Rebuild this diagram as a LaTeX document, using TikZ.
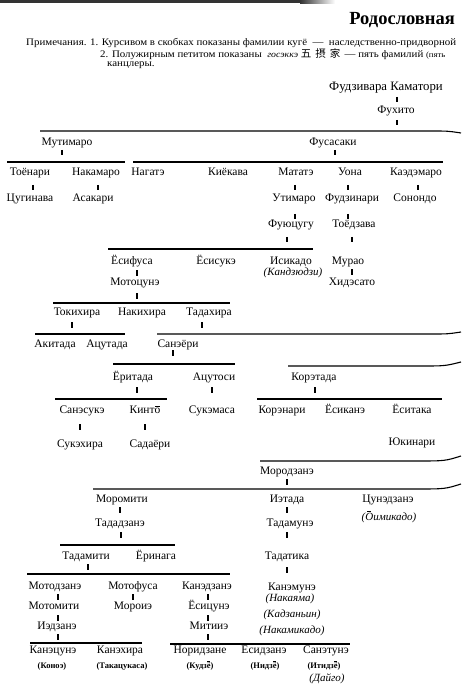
\documentclass[tikz,border=0pt]{standalone}
\usepackage{fontspec}
\setmainfont{Liberation Serif}
\newfontfamily\cjk{Noto Sans CJK JP}
\newfontfamily\notefont[FakeStretch=1.09]{Liberation Serif}
\newcommand\macr[2][0.58em]{\ooalign{#2\cr\hidewidth\smash{\raisebox{#1}{\rule{0.36em}{0.065em}}}\hidewidth\cr}}
\begin{document}
\begin{tikzpicture}[x=1pt,y=-1pt,
  nm/.style={anchor=mid,inner sep=0pt,font=\fontsize{11.5}{13}\selectfont},
  it/.style={anchor=mid,inner sep=0pt,font=\fontsize{11}{13}\selectfont\itshape},
  bs/.style={anchor=mid,inner sep=0pt,font=\fontsize{8.5}{10}\selectfont\bfseries},
  note/.style={anchor=mid west,inner sep=0pt,font=\notefont\fontsize{10}{11}\selectfont},
  bar/.style={line width=1.1pt},
  tick/.style={line width=1.3pt}]
\useasboundingbox (0,0) rectangle (461,700);
% scan band at top
\fill[black!80] (0,0) rectangle (300,3.5);
\shade[left color=black!80,right color=white] (300,0) rectangle (335,3.5);
% header
\node[anchor=mid east,inner sep=0pt,font=\fontsize{18.5}{20}\selectfont\bfseries] (title) at (455,22) {Родословная};
\node[note] (n1) at (26,43) {Примечания. 1. Курсивом в скобках показаны фамилии кугё~~—~~наследственно-придворной};
\node[note] (n2) at (100,55.5) {2. Полужирным петитом показаны \ {\itshape\fontsize{9}{9}\selectfont госэккэ} {\cjk\fontsize{10.5}{10.5}\selectfont 五\hspace{4pt}摂\hspace{4pt}家}\, — пять фамилий {\fontsize{8}{8}\selectfont (пять}};
\node[note] (n3) at (107,64) {канцлеры.};

% generation nodes
\node[nm,font=\fontsize{12.8}{14}\selectfont] (kam) at (386,88) {Фудзивара Каматори};
\node[nm] (fuh) at (396,111) {Фухито};
\node[nm] (mut) at (67,143) {Мутимаро};
\node[nm] (fus) at (333,143) {Фусасаки};
\node[nm] (toyo) at (30,173) {Тоёнари};
\node[nm] (nakam) at (96,173) {Накамаро};
\node[nm] (nagat) at (148,173) {Нагатэ};
\node[nm] (kiyo) at (228,173) {Киёкава};
\node[nm] (matat) at (296,173) {Мататэ};
\node[nm] (uona) at (350,173) {Уона};
\node[nm] (kaed) at (416,173) {Каэдэмаро};
\node[nm] (tsug) at (30,199) {Цугинава};
\node[nm] (asak) at (93,199) {Асакари};
\node[nm] (utim) at (294,199) {Утимаро};
\node[nm] (fudzn) at (352,199) {Фудзинари};
\node[nm] (sonon) at (415,199) {Сонондо};
\node[nm] (fuyu) at (291,225) {Фуюцугу};
\node[nm] (toyodz) at (354,225) {Тоёдзава};
\node[nm] (yosif) at (132,262) {Ёсифуса};
\node[nm] (yosis) at (216,262) {Ёсисукэ};
\node[nm] (isik) at (291,262) {Исикадо};
\node[it] (kandz) at (293,273) {(Кандзюдзи)};
\node[nm] (murao) at (348,262) {Мурао};
\node[nm] (motots) at (135,283) {Мотоцунэ};
\node[nm] (hides) at (352,283) {Хидэсато};
\node[nm] (tokih) at (77,313) {Токихира};
\node[nm] (nakih) at (142,313) {Накихира};
\node[nm] (tadah) at (209,313) {Тадахира};
\node[nm] (akit) at (55,345) {Акитада};
\node[nm] (atsut) at (107,345) {Ацутада};
\node[nm] (saneyo) at (178,345) {Санэёри};
\node[nm] (yorit) at (133,378) {Ёритада};
\node[nm] (atsuto) at (214,378) {Ацутоси};
\node[nm] (koret) at (314,378) {Корэтада};
\node[nm] (sanes) at (82,411) {Санэсукэ};
\node[nm] (kinto) at (145,411) {Кинт\macr{о}};
\node[nm] (sukem) at (212,411) {Сукэмаса};
\node[nm] (koren) at (282,411) {Корэнари};
\node[nm] (yosik) at (345,411) {Ёсиканэ};
\node[nm] (yosit) at (412,411) {Ёситака};
\node[nm] (sukeh) at (80,445) {Сукэхира};
\node[nm] (sadayo) at (150,445) {Садаёри};
\node[nm] (yukin) at (412,443) {Юкинари};
\node[nm] (morodz) at (287,472) {Мородзанэ};
\node[nm] (moromi) at (122,500) {Моромити};
\node[nm] (ietada) at (287,500) {Иэтада};
\node[nm] (tsunedz) at (388,500) {Цунэдзанэ};
\node[it] (oimik) at (389,518) {(\macr[0.76em]{О}имикадо)};
\node[nm] (tadadz) at (120,524) {Тададзанэ};
\node[nm] (tadamu) at (290,524) {Тадамунэ};
\node[nm] (tadami) at (86,557) {Тадамити};
\node[nm] (yorin) at (156,557) {Ёринага};
\node[nm] (tadat) at (287,557) {Тадатика};
\node[nm] (motodz) at (55,587) {Мотодзанэ};
\node[nm] (motof) at (133,587) {Мотофуса};
\node[nm] (kanedz) at (207,587) {Канэдзанэ};
\node[nm] (kanem) at (292,588) {Канэмунэ};
\node[it] (nakay) at (290,599.5) {(Накаяма)};
\node[nm] (motomi) at (54,607) {Мотомити};
\node[nm] (moroie) at (133,607) {Мороиэ};
\node[nm] (yositsu) at (209,607) {Ёсицунэ};
\node[it] (kadz) at (292,615.5) {(Кадзаньин)};
\node[nm] (iedz) at (57,627) {Иэдзанэ};
\node[nm] (mitiie) at (209,627) {Митииэ};
\node[it] (nakamik) at (292,631.5) {(Накамикадо)};
\node[nm] (kanets) at (53,651.5) {Канэцунэ};
\node[nm] (kaneh) at (120,651.5) {Канэхира};
\node[nm] (noridz) at (200,651.5) {Норидзане};
\node[nm] (yosidz) at (264,651.5) {Ёсидзанэ};
\node[nm] (sanet) at (326,651.5) {Санэтунэ};
\node[bs] (konoe) at (52,666) {(Коноэ)};
\node[bs] (takats) at (122,666) {(Такацукаса)};
\node[bs] (kudzyo) at (200,666) {(Кудз\macr[0.76em]{ё})};
\node[bs] (nidzyo) at (265,666) {(Нидз\macr[0.76em]{ё})};
\node[bs] (itidzyo) at (324,666) {(Итидз\macr[0.76em]{ё})};
\node[it] (daigo) at (327,679) {(Дайго)};

% sibling bars
\coordinate (b1l) at (40,131);   \coordinate (b1r) at (461,133);
\coordinate (b2al) at (7,162);   \coordinate (b2ar) at (125,162);
\coordinate (b2bl) at (133,162); \coordinate (b2br) at (443,162);
\coordinate (b3l) at (108,249);  \coordinate (b3r) at (313,249);
\coordinate (b4l) at (53,303);   \coordinate (b4r) at (230,303);
\coordinate (b5al) at (35,334);  \coordinate (b5ar) at (125,334);
\coordinate (b5bl) at (157,334); \coordinate (b5br) at (461,332);
\coordinate (b6al) at (113,364); \coordinate (b6ar) at (235,364);
\coordinate (b6bl) at (288,366); \coordinate (b6br) at (461,362);
\coordinate (b7al) at (55,399);  \coordinate (b7ar) at (167,399);
\coordinate (b7bl) at (257,399); \coordinate (b7br) at (442,399);
\coordinate (b8l) at (260,461);  \coordinate (b8r) at (461,456);
\coordinate (b9l) at (93,489);   \coordinate (b9r) at (461,484);
\coordinate (b10l) at (60,545);  \coordinate (b10r) at (175,545);
\coordinate (b11l) at (27,574);  \coordinate (b11r) at (230,574);
\coordinate (b12al) at (30,643); \coordinate (b12ar) at (142,643);
\coordinate (b12bl) at (170,644);\coordinate (b12br) at (350,644);

\draw[bar] (b1l) -- (430,131) .. controls (448,131) .. (b1r);
\draw[bar] (b2al) -- (b2ar);
\draw[bar] (b2bl) -- (b2br);
\draw[bar] (b3l) -- (b3r);
\draw[bar] (b4l) -- (b4r);
\draw[bar] (b5al) -- (b5ar);
\draw[bar] (b5bl) -- (430,334) .. controls (448,334) .. (b5br);
\draw[bar] (b6al) -- (b6ar);
\draw[bar] (b6bl) -- (420,366) .. controls (445,366) .. (b6br);
\draw[bar] (b7al) -- (b7ar);
\draw[bar] (b7bl) -- (b7br);
\draw[bar] (b8l) -- (415,461) .. controls (445,461) .. (b8r);
\draw[bar] (b9l) -- (415,489) .. controls (445,489) .. (b9r);
\draw[bar] (b10l) -- (b10r);
\draw[bar] (b11l) -- (b11r);
\draw[bar] (b12al) -- (b12ar);
\draw[bar] (b12bl) -- (b12br);

% descent ticks
\foreach \x/\y in {397/97, 397/120, 62/150, 335/150,
  33/185, 98/185, 295/185, 348/185, 418/185,
  295/214, 348/214, 287/237, 352/237,
  137/270, 352/269, 137/293, 72/322, 202/322,
  173/350, 137/387, 212/387, 315/387, 80/424, 145/424,
  287/479, 120/507, 287/507, 121/532, 287/532,
  88/564, 287/567, 58/594, 133/594, 208/594,
  58/615, 208/615, 58/634, 208/634}
  \draw[tick] (\x,\y) -- ++(0,5.5);
\end{tikzpicture}
\end{document}
